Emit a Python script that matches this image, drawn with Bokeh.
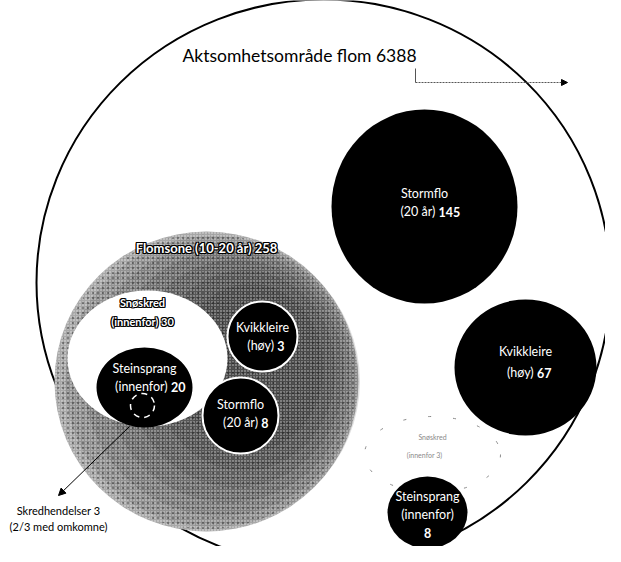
from bokeh.plotting import figure
from bokeh.models import Range1d, Arrow, NormalHead
from bokeh.embed import file_html
from bokeh.resources import INLINE
from bokeh.core.properties import value

# ---- data ----
names = ["Aktsomhetsområde flom", "Flomsone (10-20 år)", "Snøskred (innenfor)",
         "Steinsprang (innenfor)", "Kvikkleire (høy)", "Stormflo (20 år)",
         "Stormflo (20 år)", "Kvikkleire (høy)", "Snøskred (innenfor)", "Steinsprang (innenfor)"]
counts = [6388, 258, 30, 20, 3, 8, 145, 67, 3, 8]
events_label = "Skredhendelser"
events_count = 3
events_note = "(2/3 med omkomne)"

# ---- layout (pixel space of the drawing) ----
W, H = 605, 546
X0, Y0 = 8, 8
# centre x, centre y, half width, half height
shape = {
    0: (331, 290, 287, 283),
    1: (214, 389, 152, 150),
    2: (155, 366, 80, 68),
    3: (152, 395, 48, 40),
    4: (270, 344, 35, 35),
    5: (248, 423, 38, 38),
    6: (432, 214, 93, 97),
    7: (533, 375, 71, 68),
    8: (440, 462, 68, 38),
    9: (435, 520, 40, 36),
}
# soft shading layers of the stippled zone: (dx, dy, scale x, scale y, alpha)
shade = [(6, 0, 0.97, 0.97, 0.12), (14, -2, 0.90, 0.91, 0.12),
         (22, -5, 0.81, 0.84, 0.12), (30, -8, 0.71, 0.76, 0.12),
         (38, -11, 0.60, 0.67, 0.12), (44, -14, 0.48, 0.56, 0.12)]

p = figure(width=W, height=H, output_backend="svg", toolbar_location=None,
           x_range=Range1d(X0, X0 + W), y_range=Range1d(Y0 + H, Y0),
           min_border=0, outline_line_color=None)
p.axis.visible = False
p.grid.visible = False
p.background_fill_color = "white"

FONT = value("Lato")

def ell(i, dx=0, dy=0, sx=1.0, sy=1.0, **kw):
    cx, cy, rx, ry = shape[i]
    p.ellipse(x=[cx + dx], y=[cy + dy], width=[2 * rx * sx], height=[2 * ry * sy], **kw)

# outer
ell(0, fill_color="white", line_color="black", line_width=2)
# flomsone stippled: light rim, darker towards the right
ell(1, fill_color="#a8a8a8", line_color=None)
for dx, dy, sx, sy, a in shade:
    ell(1, dx=dx, dy=dy, sx=sx, sy=sy, fill_color="black", fill_alpha=a, line_color=None)
ell(1, fill_color=None, fill_alpha=0, line_color=None, hatch_pattern="dot",
    hatch_color="white", hatch_scale=3, hatch_alpha=0.7)
ell(1, sx=0.985, sy=0.985, fill_color=None, fill_alpha=0, line_color=None,
    hatch_pattern="dot", hatch_color="black", hatch_scale=5, hatch_alpha=0.35)
# snøskred inside
ell(2, fill_color="white", line_color=None)
ell(3, fill_color="black", line_color=None)
ell(4, fill_color="black", line_color="white", line_width=2)
ell(5, fill_color="black", line_color="white", line_width=2)
ell(6, fill_color="black", line_color=None)
ell(7, fill_color="black", line_color=None)
ell(8, fill_color=None, line_color="#8a8a8a", line_dash="3 22", line_width=1)
ell(9, fill_color="black", line_color=None)
# small dashed mark inside Steinsprang 20
p.ellipse(x=[150], y=[413], width=[24], height=[24], fill_color=None,
          line_color="white", line_width=1.5, line_dash="6 5")

def txt(x, y, s, size="12.5px", color="white", bold=False, align="center"):
    p.text(x=[x], y=[y], text=[s], text_font=FONT, text_font_size=size,
           text_color=color, text_align=align, text_baseline="middle",
           text_font_style="bold" if bold else "normal")

def txt_num(x, y, left, num, size="12.5px", color="white", cw=6.0):
    # "left" in regular weight, number in bold, centred together
    wl = len(left) * cw
    wn = len(num) * cw * 1.1
    xs = x - (wl + wn) / 2 + wl
    txt(xs, y, left, size=size, color=color, align="right")
    txt(xs, y, num, size=size, color=color, bold=True, align="left")

def outlined(x, y, s, size="12px"):
    for dx, dy in [(-1, 0), (1, 0), (0, -1), (0, 1), (-1, -1), (1, 1), (-1, 1), (1, -1)]:
        p.text(x=[x], y=[y], text=[s], text_font=FONT, text_font_size=size,
               text_color="black", text_align="center", text_baseline="middle",
               x_offset=dx, y_offset=dy, text_font_style="bold")
    p.text(x=[x], y=[y], text=[s], text_font=FONT, text_font_size=size,
           text_color="white", text_align="center", text_baseline="middle",
           text_font_style="bold")

# title
txt(307, 63, f"{names[0]} {counts[0]}", size="17.5px", color="black")
outlined(214, 255, f"Flomsone (10-20 år) {counts[1]}", size="13px")
outlined(150, 310, "Snøskred", size="11px")
outlined(150, 329, f"(innenfor) {counts[2]}", size="11px")
txt(152, 376, "Steinsprang")
txt_num(152, 394, "(innenfor) ", f"{counts[3]}")
txt(270, 335, "Kvikkleire")
txt_num(270, 353, "(høy) ", f"{counts[4]}")
txt(248, 412, "Stormflo")
txt_num(248, 430, "(20 år) ", f"{counts[5]}")
txt(432, 201, "Stormflo")
txt_num(432, 219, "(20 år) ", f"{counts[6]}")
txt(533, 359, "Kvikkleire")
txt_num(533, 380, "(høy) ", f"{counts[7]}")
txt(440, 444, "Snøskred", size="7px", color="#8a8a8a")
txt(432, 462, f"(innenfor {counts[8]})", size="7px", color="#8a8a8a")
txt(435, 504, "Steinsprang")
txt(435, 522, "(innenfor)")
txt(435, 540, f"{counts[9]}", bold=True)
txt(66, 518, f"{events_label} {events_count}", size="11px", color="black")
txt(66, 534, events_note, size="11px", color="black")

# arrows
p.add_layout(Arrow(end=NormalHead(size=7, fill_color="black", line_color="black"),
                   x_start=137, y_start=434, x_end=66, y_end=503,
                   line_color="black", line_width=1))
p.line(x=[423, 423], y=[76, 90], line_color="#555555", line_width=1)
p.add_layout(Arrow(end=NormalHead(size=6, fill_color="black", line_color="black"),
                   x_start=423, y_start=90, x_end=575, y_end=90,
                   line_color="#555555", line_width=1, line_dash="2 1"))

open("out.html", "w").write(file_html(p, INLINE))
